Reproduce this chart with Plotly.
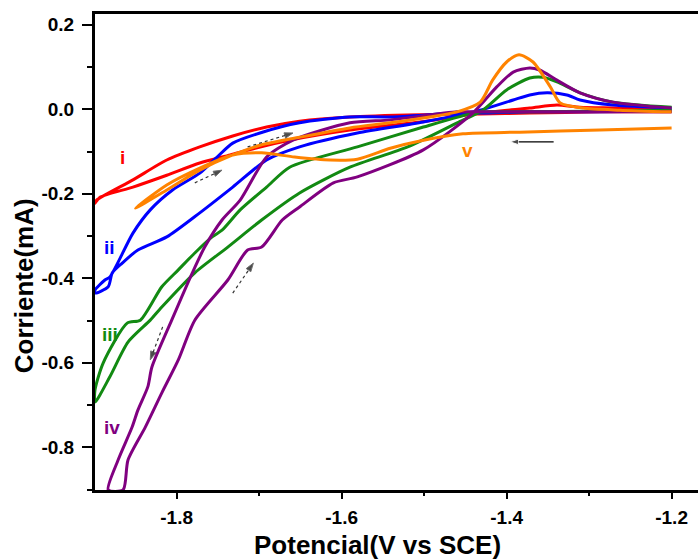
import plotly.graph_objects as go

# ---- data (potential V vs SCE, current mA) ----
red_x = [-1.200, -1.287, -1.372, -1.432, -1.505, -1.590, -1.651, -1.691, -1.732, -1.772, -1.812, -1.853, -1.897, -1.899,
         -1.893, -1.853, -1.812, -1.772, -1.735, -1.705, -1.663, -1.590, -1.505, -1.432, -1.372, -1.339, -1.311, -1.263, -1.200]
red_y = [-0.006, -0.006, -0.009, -0.011, -0.013, -0.018, -0.028, -0.042, -0.063, -0.089, -0.120, -0.167, -0.215, -0.222,
         -0.208, -0.184, -0.156, -0.127, -0.108, -0.092, -0.073, -0.049, -0.030, -0.009, 0.003, 0.010, 0.005, 0.003, -0.002]

blue_x = [-1.200, -1.287, -1.372, -1.432, -1.460, -1.541, -1.590, -1.651, -1.699, -1.732, -1.751, -1.772, -1.805, -1.832,
          -1.853, -1.881, -1.887, -1.899,
          -1.899, -1.883, -1.878, -1.866, -1.847, -1.812, -1.772, -1.732, -1.691, -1.651, -1.581, -1.501, -1.432, -1.392,
          -1.372, -1.351, -1.327, -1.311, -1.271, -1.200]
blue_y = [-0.004, -0.006, -0.006, -0.009, -0.009, -0.018, -0.018, -0.032, -0.056, -0.080, -0.113, -0.151, -0.191, -0.238,
          -0.293, -0.397, -0.404, -0.428,
          -0.435, -0.420, -0.387, -0.364, -0.333, -0.302, -0.245, -0.184, -0.120, -0.089, -0.056, -0.030, -0.002, 0.022,
          0.034, 0.039, 0.034, 0.022, 0.010, 0.003]

green_x = [-1.200, -1.287, -1.372, -1.429, -1.441, -1.501, -1.581, -1.663, -1.691, -1.723, -1.745, -1.757, -1.778, -1.798,
           -1.818, -1.844, -1.860, -1.889, -1.899,
           -1.899, -1.881, -1.859, -1.832, -1.818, -1.778, -1.738, -1.697, -1.651, -1.590, -1.520, -1.460, -1.429, -1.400,
           -1.372, -1.356, -1.339, -1.311, -1.271, -1.200]
green_y = [-0.002, -0.004, -0.006, -0.006, -0.009, -0.042, -0.089, -0.137, -0.184, -0.238, -0.286, -0.302, -0.340, -0.380,
           -0.420, -0.499, -0.506, -0.600, -0.664,
           -0.693, -0.633, -0.551, -0.499, -0.468, -0.387, -0.326, -0.262, -0.198, -0.137, -0.089, -0.032, -0.002, 0.046,
           0.074, 0.076, 0.065, 0.039, 0.017, 0.005]

purple_x = [-1.200, -1.287, -1.372, -1.432, -1.460, -1.541, -1.590, -1.659, -1.691, -1.723, -1.745, -1.766, -1.781, -1.806,
            -1.830, -1.835, -1.847, -1.854, -1.871, -1.883,
            -1.865, -1.859, -1.838, -1.818, -1.798, -1.778, -1.738, -1.714, -1.697, -1.672, -1.651, -1.610, -1.581, -1.501,
            -1.441, -1.412, -1.392, -1.372, -1.360, -1.339, -1.311, -1.271, -1.200]
purple_y = [-0.006, -0.006, -0.006, -0.006, -0.006, -0.025, -0.032, -0.073, -0.113, -0.215, -0.262, -0.326, -0.387, -0.499,
            -0.610, -0.657, -0.712, -0.752, -0.830, -0.901,
            -0.901, -0.830, -0.752, -0.671, -0.593, -0.499, -0.404, -0.333, -0.326, -0.262, -0.231, -0.174, -0.160, -0.096,
            -0.009, 0.053, 0.088, 0.098, 0.093, 0.069, 0.039, 0.017, 0.003]

orange_x = [-1.200, -1.287, -1.384, -1.453, -1.505, -1.541, -1.581, -1.614, -1.657, -1.697, -1.732, -1.772, -1.812, -1.850,
            -1.812, -1.772, -1.732, -1.697, -1.651, -1.590, -1.541, -1.493, -1.460, -1.432, -1.417, -1.400, -1.385, -1.368,
            -1.347, -1.335, -1.307, -1.263, -1.200]
orange_y = [-0.044, -0.049, -0.054, -0.058, -0.075, -0.092, -0.118, -0.120, -0.113, -0.103, -0.108, -0.139, -0.179, -0.234,
            -0.191, -0.144, -0.108, -0.084, -0.066, -0.044, -0.032, -0.018, -0.006, 0.017, 0.069, 0.112, 0.129, 0.112,
            0.053, 0.015, 0.003, -0.002, -0.006]

series = [
    ("i", red_x, red_y, "#FF0000"),
    ("ii", blue_x, blue_y, "#0000FF"),
    ("iii", green_x, green_y, "#128A12"),
    ("iv", purple_x, purple_y, "#800080"),
    ("v", orange_x, orange_y, "#FF8300"),
]

# curve labels (x, y)
label_pos = {"i": (-1.866, -0.113), "ii": (-1.881, -0.326), "iii": (-1.881, -0.534),
             "iv": (-1.878, -0.754), "v": (-1.447, -0.097)}

# scan-direction arrows: (x0, y0, x1, y1, dashed)
arrows = [(-1.714, -0.089, -1.659, -0.056, True),
          (-1.778, -0.174, -1.745, -0.144, True),
          (-1.732, -0.435, -1.707, -0.364, True),
          (-1.817, -0.515, -1.832, -0.593, True),
          (-1.343, -0.077, -1.396, -0.077, False)]

x_ticks = [-1.8, -1.6, -1.4, -1.2]
x_ticktext = ["-1.8", "-1.6", "-1.4", "-1.2"]
y_ticks = [-0.8, -0.6, -0.4, -0.2, 0.0, 0.2]
y_ticktext = ["-0.8", "-0.6", "-0.4", "-0.2", "0.0", "0.2"]

FONT = "Liberation Sans, Arial, sans-serif"

fig = go.Figure()
for name, xs, ys, col in series:
    fig.add_trace(go.Scatter(x=xs, y=ys, mode="lines", name=name,
                             line=dict(color=col, width=3, shape="spline", smoothing=0.7),
                             showlegend=False))

for x0, y0, x1, y1, dashed in arrows:
    fig.add_trace(go.Scatter(
        x=[x0, x1], y=[y0, y1], mode="lines+markers", showlegend=False,
        line=dict(color="#333333" if dashed else "black", width=1.2, dash="dot" if dashed else "solid"),
        marker=dict(symbol="arrow", size=[0, 9], angleref="previous", color="black")))

annotations = []
for name, xs, ys, col in series:
    lx, ly = label_pos[name]
    annotations.append(dict(x=lx, y=ly, xref="x", yref="y", text=name, showarrow=False,
                            xanchor="center", yanchor="middle",
                            font=dict(family=FONT, size=19, color=col, weight="bold")))

annotations.append(dict(x=-0.118, y=0.43, xref="paper", yref="paper", text="Corriente(mA)",
                        textangle=-90, showarrow=False, xanchor="center", yanchor="middle",
                        font=dict(family=FONT, size=26, color="black", weight="bold")))
annotations.append(dict(x=0.469, y=-0.116, xref="paper", yref="paper", text="Potencial(V vs SCE)",
                        showarrow=False, xanchor="center", yanchor="middle",
                        font=dict(family=FONT, size=26, color="black", weight="bold")))

fig.update_layout(
    width=698, height=559,
    margin=dict(l=95, r=0, t=14, b=69),
    plot_bgcolor="white", paper_bgcolor="white",
    annotations=annotations,
    xaxis=dict(range=[-1.899, -1.168], tickvals=x_ticks, ticktext=x_ticktext,
               ticks="outside", ticklen=6, tickwidth=2, tickcolor="black",
               showline=True, linewidth=3, linecolor="black", mirror=True,
               showgrid=False, zeroline=False, ticklabelstandoff=2,
               minor=dict(ticks="outside", ticklen=3, tickwidth=1.5, tickcolor="black", dtick=0.1, tick0=-1.8),
               tickfont=dict(family=FONT, size=19, color="black", weight="bold")),
    yaxis=dict(range=[-0.901, 0.2256], tickvals=y_ticks, ticktext=y_ticktext,
               ticks="outside", ticklen=10, tickwidth=2, tickcolor="black",
               showline=True, linewidth=3, linecolor="black",
               showgrid=False, zeroline=False, ticklabelstandoff=4,
               minor=dict(ticks="outside", ticklen=5, tickwidth=1.5, tickcolor="black", dtick=0.1, tick0=0),
               tickfont=dict(family=FONT, size=19, color="black", weight="bold")),
)

fig.write_html("out.html")
